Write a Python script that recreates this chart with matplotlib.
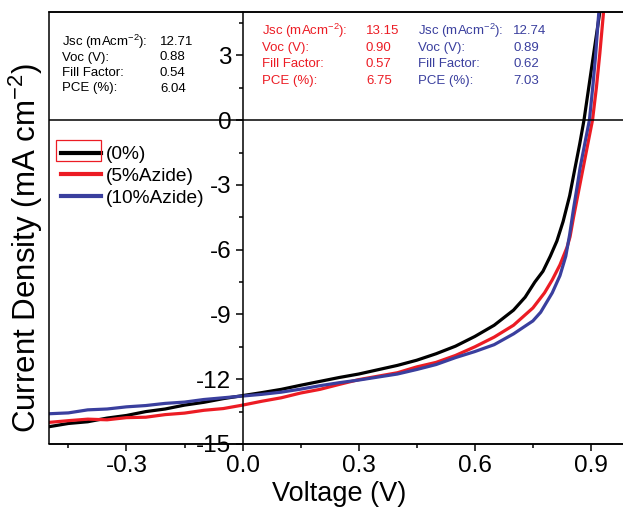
import matplotlib
matplotlib.use("Agg")
import matplotlib.pyplot as plt
from matplotlib.patches import Rectangle
from matplotlib.ticker import MultipleLocator

plt.rcParams['font.family'] = ['Liberation Sans', 'DejaVu Sans']
plt.rcParams['axes.unicode_minus'] = False
plt.rcParams['mathtext.fontset'] = 'custom'
plt.rcParams['mathtext.rm'] = 'Liberation Sans'
plt.rcParams['mathtext.it'] = 'Liberation Sans:italic'
plt.rcParams['mathtext.bf'] = 'Liberation Sans:bold'

# J-V curves (voltage in V, current density in mA cm^-2)
v_0 = [-0.50, -0.45, -0.40, -0.35, -0.30, -0.25, -0.20, -0.15, -0.10, -0.05,
       0.00, 0.05, 0.10, 0.15, 0.20, 0.25, 0.30, 0.35, 0.40, 0.45, 0.50,
       0.55, 0.60, 0.65, 0.70, 0.73, 0.755, 0.776, 0.795, 0.812, 0.828,
       0.845, 0.859, 0.871, 0.882, 0.895, 0.908, 0.922, 0.93]
j_0 = [-14.2, -14.05, -13.97, -13.8, -13.68, -13.5, -13.38, -13.2, -13.07, -12.9,
       -12.76, -12.62, -12.47, -12.28, -12.1, -11.92, -11.76, -11.56, -11.36, -11.12, -10.82,
       -10.47, -10.02, -9.5, -8.8, -8.2, -7.5, -7.0, -6.3, -5.6, -4.7,
       -3.5, -2.2, -1.1, 0.0, 1.6, 3.2, 4.9, 6.0]

v_5 = [-0.50, -0.45, -0.40, -0.35, -0.30, -0.25, -0.20, -0.15, -0.10, -0.05,
       0.00, 0.05, 0.10, 0.15, 0.20, 0.25, 0.30, 0.35, 0.40, 0.45, 0.50,
       0.55, 0.60, 0.65, 0.70, 0.75, 0.78, 0.80, 0.82, 0.838, 0.846,
       0.855, 0.868, 0.88, 0.893, 0.904, 0.914, 0.923, 0.932, 0.938]
j_5 = [-14.0, -13.92, -13.85, -13.88, -13.78, -13.76, -13.64, -13.57, -13.44, -13.36,
       -13.2, -13.02, -12.86, -12.64, -12.47, -12.24, -12.02, -11.86, -11.7, -11.43, -11.22,
       -10.9, -10.5, -10.05, -9.5, -8.7, -8.0, -7.4, -6.7, -5.9, -5.4,
       -4.5, -3.3, -2.2, -1.0, 0.0, 1.5, 3.1, 4.9, 6.2]

v_10 = [-0.50, -0.45, -0.40, -0.35, -0.30, -0.25, -0.20, -0.15, -0.10, -0.05,
        0.00, 0.05, 0.10, 0.15, 0.20, 0.25, 0.30, 0.35, 0.40, 0.45, 0.50,
        0.55, 0.60, 0.65, 0.70, 0.75, 0.77, 0.80, 0.82, 0.835, 0.845,
        0.855, 0.865, 0.872, 0.885, 0.896, 0.905, 0.912, 0.919, 0.926]
j_10 = [-13.6, -13.56, -13.42, -13.38, -13.28, -13.22, -13.12, -13.06, -12.94, -12.86,
        -12.78, -12.7, -12.6, -12.46, -12.3, -12.16, -12.04, -11.9, -11.76, -11.55, -11.32,
        -11.0, -10.72, -10.4, -9.9, -9.3, -8.9, -8.0, -7.2, -6.3, -5.3,
        -4.1, -3.0, -2.2, -1.0, 0.0, 1.6, 3.0, 4.7, 6.2]

labels = ['(0%)', '(5%Azide)', '(10%Azide)']
colors = ['#000000', '#ec1c24', '#3a3f9e']
params = ['Jsc (mAcm$^{-2}$):', 'Voc (V):', 'Fill Factor:', 'PCE (%):']
vals_0 = ['12.71', '0.88', '0.54', '6.04']
vals_5 = ['13.15', '0.90', '0.57', '6.75']
vals_10 = ['12.74', '0.89', '0.62', '7.03']

fig = plt.figure(figsize=(6.23, 5.07), dpi=100)
ax = fig.add_axes([0.0787, 0.1243, 1.0107 - 0.0787, 0.976 - 0.1243])

for v, j, lab, c in zip([v_0, v_5, v_10], [j_0, j_5, j_10], labels, colors):
    ax.plot(v, j, color=c, lw=2.3, label=lab)

ax.set_xlim(-0.5, 1.0)
ax.set_ylim(-15, 5)

# y axis sits on V = 0, frame kept as a box
ax.spines['left'].set_position(('data', 0))
for s in ax.spines.values():
    s.set_linewidth(1.1)
ax.spines['right'].set_visible(False)
ax.add_patch(Rectangle((0, 0), 1, 1, transform=ax.transAxes, fill=False,
                       lw=1.1, color='k', clip_on=False, zorder=5))
ax.axhline(0, color='k', lw=1.1)

ax.xaxis.set_major_locator(MultipleLocator(0.3))
ax.xaxis.set_minor_locator(MultipleLocator(0.15))
ax.yaxis.set_major_locator(MultipleLocator(3))
ax.yaxis.set_minor_locator(MultipleLocator(1.5))
ax.set_xticks([-0.3, 0.0, 0.3, 0.6, 0.9])
ax.set_xticklabels(['-0.3', '0.0', '0.3', '0.6', '0.9'])
ax.tick_params(which='major', length=5, width=1.1, labelsize=17.5, pad=3)
ax.tick_params(which='minor', length=3, width=1.1)

ax.set_xlabel('Voltage (V)', fontsize=19.5, labelpad=3)
fig.text(0.042, 0.51, 'Current Density (mA cm$^{-2}$)', rotation=90,
         fontsize=22.5, ha='center', va='center')

leg = ax.legend(loc='upper left', bbox_to_anchor=(0.0, 0.717), frameon=False,
                fontsize=13.8, handlelength=2.1, handletextpad=0.25,
                labelspacing=0.22, borderaxespad=0.2)
for line in leg.get_lines():
    line.set_linewidth(3)

# red selection box around the first legend key, as in the source figure
fig.patches.append(Rectangle((56 / 623, 1 - 161 / 507), 45 / 623, 21 / 507,
                             transform=fig.transFigure, fill=False,
                             edgecolor=colors[1], lw=0.9))

def table(x_lab, x_val, y0, vals, color, dy):
    for i, (p, v) in enumerate(zip(params, vals)):
        y = y0 - i * dy
        fig.text(x_lab, y, p, color=color, fontsize=9.5, va='center')
        fig.text(x_val, y, v, color=color, fontsize=9.5, va='center')

table(62 / 623, 160 / 623, 1 - 42 / 507, vals_0, 'black', 15.5 / 507)
table(262 / 623, 366 / 623, 1 - 31 / 507, vals_5, colors[1], 16.7 / 507)
table(418 / 623, 513 / 623, 1 - 31 / 507, vals_10, colors[2], 16.7 / 507)

fig.savefig('out.png', dpi=100)
